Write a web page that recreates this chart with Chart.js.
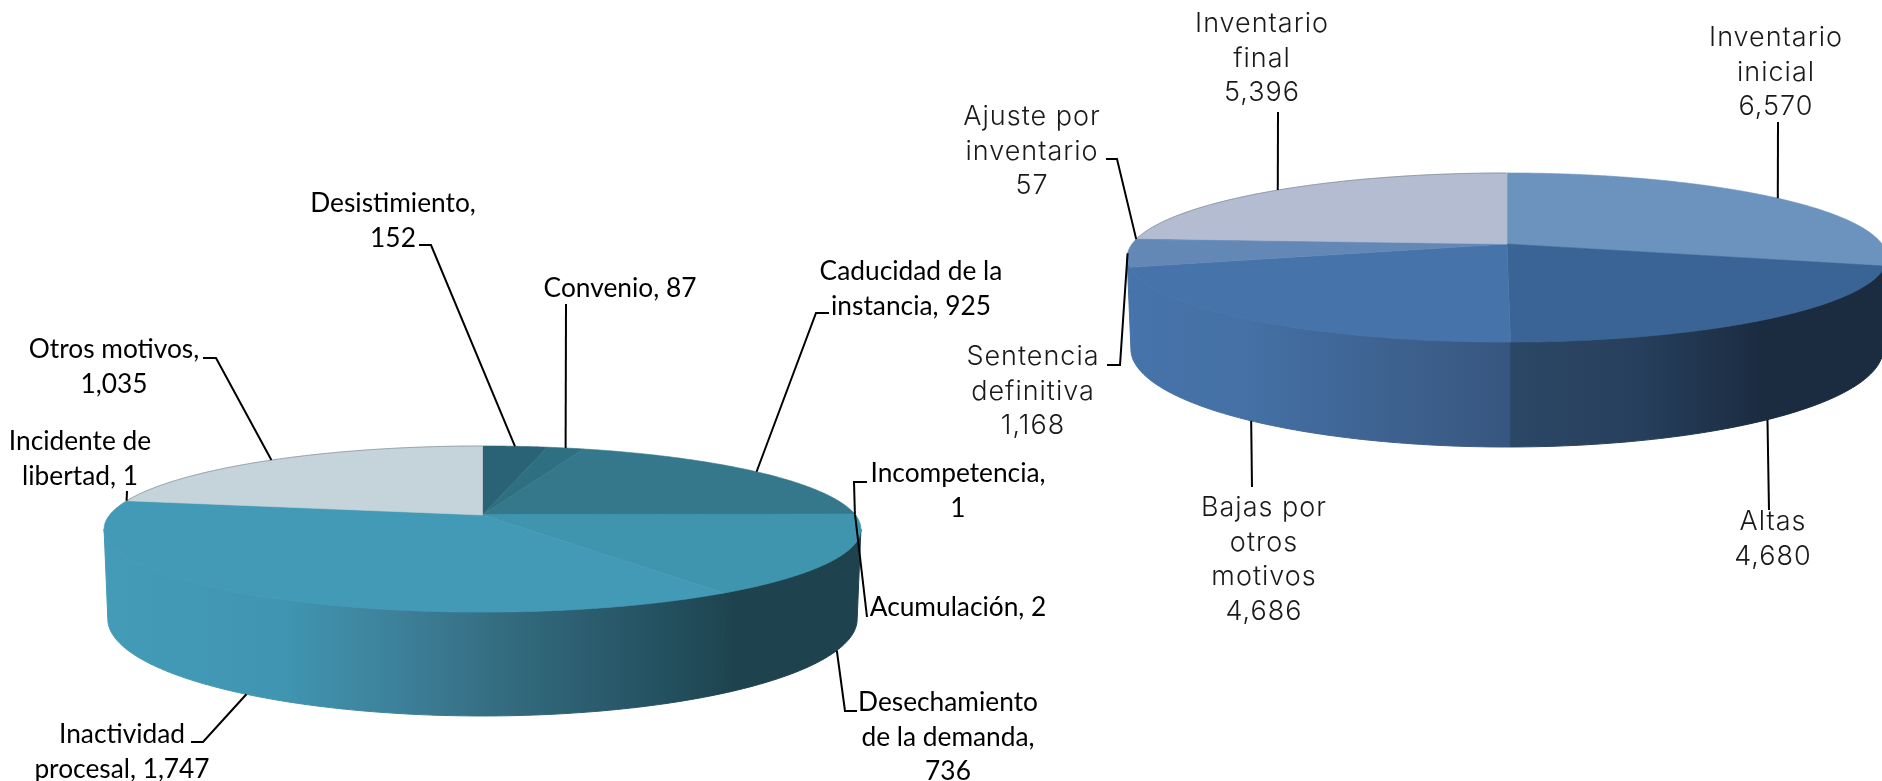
<!DOCTYPE html>
<html lang="es">
<head>
<meta charset="utf-8">
<title>Tartas</title>
<script src="https://cdn.jsdelivr.net/npm/chart.js@4"></script>
<style>
    html, body { margin: 0; background: #fff; overflow: hidden; }
    canvas { position: absolute; left: 0; top: 0; }
</style>
</head>
<body>
<canvas id="tartaIzq" width="1882" height="781"></canvas>
<canvas id="tartaDer" width="1882" height="781"></canvas>
<script>
    /* DATOS */
    const categoriasIzq = ['Desistimiento', 'Convenio', 'Caducidad de la instancia', 'Incompetencia', 'Acumulación', 'Desechamiento de la demanda', 'Inactividad procesal', 'Incidente de libertad', 'Otros motivos'];
    const valoresIzq = [152, 87, 925, 1, 2, 736, 1747, 1, 1035];
    const coloresIzq = ['#2b6376', '#2e6f82', '#35788b', '#3f94ae', '#3f94ae', '#3f94ae', '#439ab6', '#439ab6', '#c5d3da'];
    const textosIzq = [
        ['Desistimiento,', '152'],
        ['Convenio, 87'],
        ['Caducidad de la', 'instancia, 925'],
        ['Incompetencia,', '1'],
        ['Acumulación, 2'],
        ['Desechamiento', 'de la demanda,', '736'],
        ['Inactividad', 'procesal, 1,747'],
        ['Incidente de', 'libertad, 1'],
        ['Otros motivos,', '1,035']
    ];

    const categoriasDer = ['Inventario inicial', 'Altas', 'Bajas por otros motivos', 'Sentencia definitiva', 'Ajuste por inventario', 'Inventario final'];
    const valoresDer = [6570, 4680, 4686, 1168, 57, 5396];
    const coloresDer = ['#6b93bd', '#396495', '#4673aa', '#6388b6', '#6388b6', '#b3bcd1'];
    const textosDer = [
        ['Inventario', 'inicial', '6,570'],
        ['Altas', '4,680'],
        ['Bajas por', 'otros', 'motivos', '4,686'],
        ['Sentencia', 'definitiva', '1,168'],
        ['Ajuste por', 'inventario', '57'],
        ['Inventario', 'final', '5,396']
    ];

    /* POSICION DE TEXTOS: centro x, primera linea y, y guia desde el texto hasta el borde */
    const rotulosIzq = [
        { x: 393, y: 212, guia: [[419, 245], [431, 245]], borde: 'arriba' },
        { x: 620, y: 297, guia: [[566, 304]], borde: 'arriba' },
        { x: 911, y: 280, guia: [[829, 313], [816, 313]], borde: 'arriba' },
        { x: 958, y: 482, guia: [[867, 482], [854, 482]], borde: 'arriba' },
        { x: 958, y: 616, guia: [[867, 617]], borde: 'arriba' },
        { x: 948, y: 711, guia: [[857, 711], [845, 711]], borde: 'abajo' },
        { x: 122, y: 743, guia: [[191, 742], [203, 742]], borde: 'abajo' },
        { x: 80, y: 450, guia: [[127, 491]], borde: 'arriba' },
        { x: 114, y: 358, guia: [[203, 358], [216, 358]], borde: 'arriba' }
    ];
    const rotulosDer = [
        { x: 1776, y: 46, guia: [[1778, 122]], borde: 'arriba' },
        { x: 1773, y: 530, guia: [[1769, 510]], borde: 'abajo' },
        { x: 1264, y: 516, guia: [[1252, 487]], borde: 'abajo' },
        { x: 1033, y: 365, guia: [[1107, 365], [1120, 365]], borde: 'arriba' },
        { x: 1032, y: 125, guia: [[1106, 159], [1117, 159]], borde: 'arriba' },
        { x: 1262, y: 32, guia: [[1278, 112]], borde: 'arriba' }
    ];

    const paredIzq = [[104, '#439bb7'], [280, '#4096b2'], [400, '#3d8099'], [513, '#336a7e'], [667, '#23505f'], [733, '#1e434f'], [861, '#1e434f']];
    const paredDer = [[1127, '#4673aa'], [1250, '#4470a5'], [1447, '#3b5c87'], [1509, '#365680'], [1511, '#2c4766'], [1640, '#263f5c'], [1760, '#1b2c41'], [1882, '#1b2c41']];

    /* perspectiva: a = fuga, b = alto arriba, abajoY / abajoB = aro inferior */
    function punto(el, ang, t, aro) {
        const th = ang + Math.PI / 2;
        const u = Math.sin(th), v = -Math.cos(th);
        const k = 1 / (1 - t.a * v);
        if (aro === 'abajo') {
            return [el.x + el.outerRadius * 0.99 * u * k, el.y + t.abajoY + t.abajoB * v * k];
        }
        return [el.x + el.outerRadius * u * k, el.y + t.b * v * k];
    }

    const tarta3d = {
        id: 'tarta3d',
        beforeDatasetsDraw(chart, args, t) {
            const ctx = chart.ctx;
            const arcos = chart.getDatasetMeta(0).data;
            const paso = Math.PI / 180;

            // pared, solo entre los dos puntos mas anchos del aro
            const x0 = t.pared[0][0], x1 = t.pared[t.pared.length - 1][0];
            const grad = ctx.createLinearGradient(x0, 0, x1, 0);
            t.pared.forEach(p => grad.addColorStop((p[0] - x0) / (x1 - x0), p[1]));
            ctx.fillStyle = grad;
            ctx.strokeStyle = grad;
            ctx.lineWidth = 1;
            const lado = Math.asin(t.a);
            arcos.forEach(el => {
                const ini = Math.max(el.startAngle, lado);
                const fin = Math.min(el.endAngle, Math.PI - lado);
                if (fin <= ini) return;
                ctx.beginPath();
                for (let a = ini; a < fin; a += paso) ctx.lineTo(...punto(el, a, t));
                ctx.lineTo(...punto(el, fin, t));
                for (let a = fin; a > ini; a -= paso) ctx.lineTo(...punto(el, a, t, 'abajo'));
                ctx.lineTo(...punto(el, ini, t, 'abajo'));
                ctx.closePath();
                ctx.fill();
                ctx.stroke();
            });

            // tapa
            arcos.forEach((el, i) => {
                ctx.beginPath();
                ctx.moveTo(el.x, el.y);
                for (let a = el.startAngle; a < el.endAngle; a += paso / 2) ctx.lineTo(...punto(el, a, t));
                ctx.lineTo(...punto(el, el.endAngle, t));
                ctx.closePath();
                ctx.fillStyle = chart.data.datasets[0].backgroundColor[i];
                ctx.strokeStyle = ctx.fillStyle;
                ctx.lineWidth = 0.6;
                ctx.fill();
                ctx.stroke();
            });

            // filo gris de la porcion clara
            const ult = arcos[arcos.length - 1];
            ctx.beginPath();
            for (let a = ult.startAngle; a < ult.endAngle; a += paso / 2) ctx.lineTo(...punto(ult, a, t));
            ctx.strokeStyle = 'rgba(110,120,130,0.55)';
            ctx.lineWidth = 1;
            ctx.stroke();
            return false;
        },
        afterDraw(chart, args, t) {
            const ctx = chart.ctx;
            const arcos = chart.getDatasetMeta(0).data;
            ctx.save();
            ctx.strokeStyle = '#000';
            ctx.lineWidth = 2;
            ctx.lineJoin = 'miter';
            t.rotulos.forEach((r, i) => {
                const el = arcos[i];
                const fin = punto(el, (el.startAngle + el.endAngle) / 2, t, r.borde);
                ctx.beginPath();
                r.guia.forEach(p => ctx.lineTo(p[0], p[1]));
                ctx.lineTo(fin[0], fin[1]);
                ctx.stroke();
            });
            ctx.fillStyle = t.colorTexto;
            ctx.font = t.fuente;
            ctx.textAlign = 'center';
            ctx.textBaseline = 'alphabetic';
            ctx.letterSpacing = t.espacio;
            t.textos.forEach((lineas, i) => {
                lineas.forEach((l, j) => ctx.fillText(l, t.rotulos[i].x, t.rotulos[i].y + j * t.interlinea));
            });
            ctx.restore();
        }
    };

    function crearTarta(id, labels, data, colores, radio, padding, t) {
        return new Chart(document.getElementById(id), {
            type: 'pie',
            data: {
                labels: labels,
                datasets: [{ data: data, backgroundColor: colores, borderWidth: 0, radius: radio }]
            },
            options: {
                responsive: false,
                animation: false,
                layout: { padding: padding },
                plugins: { legend: { display: false }, tooltip: { enabled: false }, tarta3d: t }
            },
            plugins: [tarta3d]
        });
    }

    crearTarta('tartaIzq', categoriasIzq, valoresIzq, coloresIzq, 373,
        { right: 917, top: 249 },
        { a: 0.169, b: 80.7, abajoY: 87.6, abajoB: 94.2, pared: paredIzq, rotulos: rotulosIzq, textos: textosIzq,
          fuente: '26.3px Lato', espacio: '0px', interlinea: 34.5, colorTexto: '#000' });

    crearTarta('tartaDer', categoriasDer, valoresDer, coloresDer, 375,
        { left: 1132, bottom: 293 },
        { a: 0.16, b: 82.4, abajoY: 89.3, abajoB: 95.5, pared: paredDer, rotulos: rotulosDer, textos: textosDer,
          fuente: '300 27px Inter', espacio: '1px', interlinea: 34.5, colorTexto: '#1a1a1a' });
</script>
</body>
</html>
